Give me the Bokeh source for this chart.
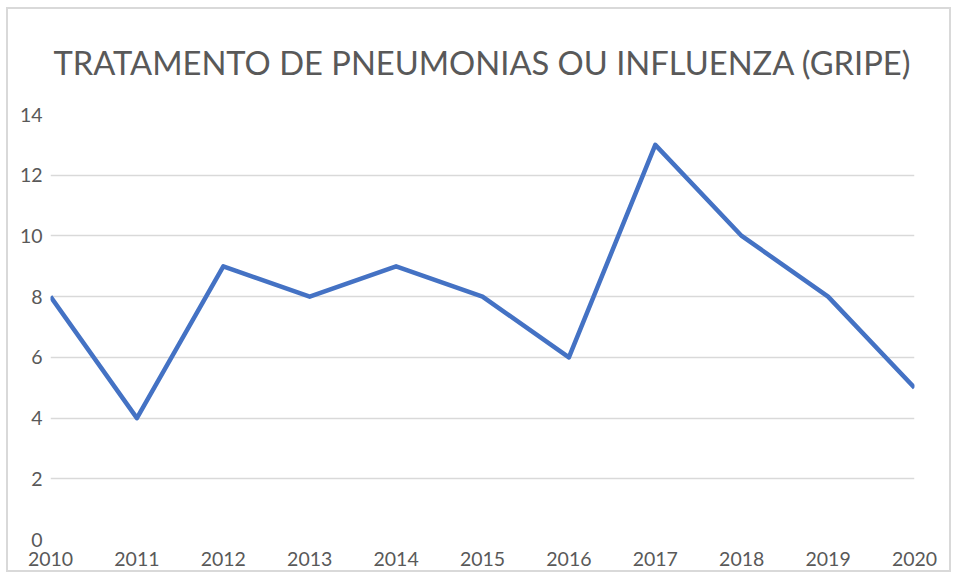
from bokeh.plotting import figure
from bokeh.embed import file_html
from bokeh.resources import INLINE
from bokeh.models import FixedTicker

years = [2010, 2011, 2012, 2013, 2014, 2015, 2016, 2017, 2018, 2019, 2020]
values = [8, 4, 9, 8, 9, 8, 6, 13, 10, 8, 5]
y_ticks = [0, 2, 4, 6, 8, 10, 12, 14]

p = figure(width=945, height=565, output_backend="svg", toolbar_location=None,
           x_range=(2010, 2020), y_range=(0, 14),
           min_border_left=42, min_border_right=39, min_border_top=105, min_border_bottom=35)
p.styles = {"border": "2px solid #d9d9d9", "margin-left": "6px", "margin-top": "7px"}

p.title.text = "TRATAMENTO DE PNEUMONIAS OU INFLUENZA (GRIPE)"
p.title.text_font = "Lato"
p.title.text_font_size = "32.7px"
p.title.text_font_style = "normal"
p.title.text_color = "#595959"
p.title.align = "center"
p.title.vertical_align = "top"
p.title.standoff = 61

p.line(years, values, line_color="#4472C4", line_width=4.5, line_join="round")

p.outline_line_color = None
p.xgrid.grid_line_color = None
p.ygrid.grid_line_color = "#d9d9d9"
p.ygrid.grid_line_width = 1.5
p.yaxis.ticker = FixedTicker(ticks=y_ticks)
p.xaxis.ticker = FixedTicker(ticks=years)
for ax in (p.xaxis, p.yaxis):
    ax.axis_line_color = None
    ax.major_tick_line_color = None
    ax.minor_tick_line_color = None
    ax.major_label_text_font = "Lato"
    ax.major_label_text_font_size = "19.5px"
    ax.major_label_text_color = "#595959"
p.yaxis.major_label_standoff = 2
p.xaxis.major_label_standoff = 6

open("out.html", "w").write(file_html(p, INLINE))
